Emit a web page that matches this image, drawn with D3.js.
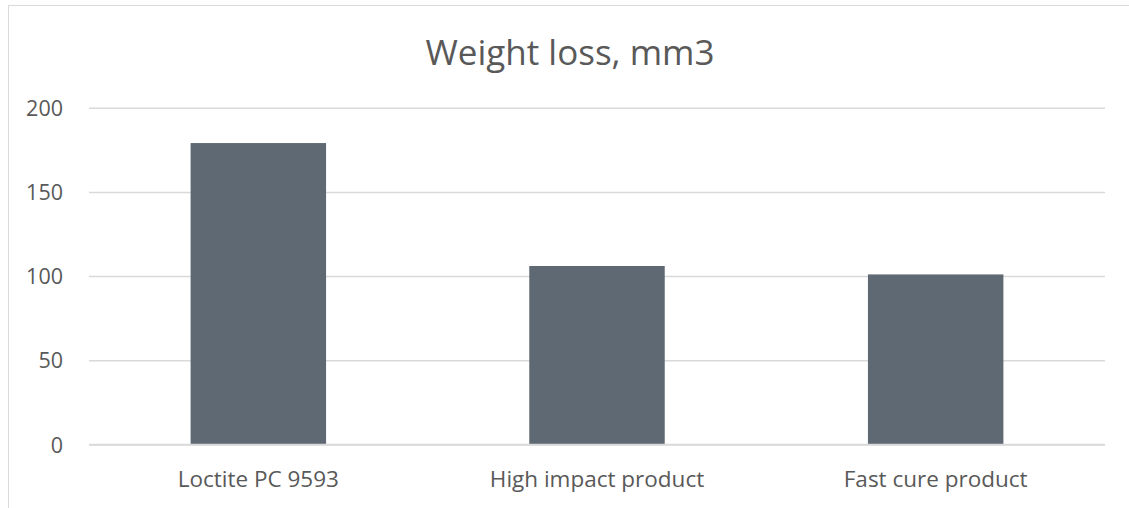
<!DOCTYPE html>
<html>
<head>
<meta charset="utf-8">
<script src="https://cdn.jsdelivr.net/npm/d3@7"></script>
<style>
  html, body { margin: 0; padding: 0; background: #ffffff; }
  svg { display: block; }
  text { font-family: "Open Sans", "Noto Sans", sans-serif; fill: #595959; }
</style>
</head>
<body>
<script>
// Chart data
const categories = ["Loctite PC 9593", "High impact product", "Fast cure product"];
const weightLoss = [179, 106, 101];
const yTicks = [0, 50, 100, 150, 200];
const title = "Weight loss, mm3";

const W = 1129, H = 508;
const plot = { left: 89, right: 1105, top: 107.7, bottom: 444.5 };

const svg = d3.select("body").append("svg")
  .attr("width", W).attr("height", H);

// Chart area frame
svg.append("rect")
  .attr("x", 8.5).attr("y", 5.5)
  .attr("width", W + 20).attr("height", H + 20)
  .attr("fill", "#ffffff")
  .attr("stroke", "#d9d9d9").attr("stroke-width", 1);

const x = d3.scaleBand()
  .domain(categories)
  .range([plot.left, plot.right])
  .paddingInner(0.6)
  .paddingOuter(0.3);

const y = d3.scaleLinear()
  .domain([0, 200])
  .range([plot.bottom, plot.top]);

// Horizontal gridlines and value labels
const yAxis = d3.axisLeft(y)
  .tickValues(yTicks)
  .tickSize(-(plot.right - plot.left))
  .tickPadding(26)
  .tickFormat(d3.format("d"));

const gy = svg.append("g")
  .attr("transform", `translate(${plot.left},0)`)
  .call(yAxis);
gy.select(".domain").remove();
gy.selectAll(".tick line")
  .attr("stroke", "#d9d9d9").attr("stroke-width", 1.5);
gy.selectAll(".tick text")
  .attr("font-size", 21.5)
  .attr("fill", "#595959")
  .attr("dy", "0.35em");

// Bars
svg.append("g").selectAll("rect")
  .data(weightLoss)
  .join("rect")
  .attr("x", (d, i) => x(categories[i]))
  .attr("y", d => y(d))
  .attr("width", x.bandwidth())
  .attr("height", d => y(0) - y(d))
  .attr("fill", "#5f6973");

// Baseline drawn over the bars
svg.append("line")
  .attr("x1", plot.left).attr("x2", plot.right)
  .attr("y1", y(0)).attr("y2", y(0))
  .attr("stroke", "#d9d9d9").attr("stroke-width", 1.5);

// Category labels
const xAxis = d3.axisBottom(x).tickSize(0).tickPadding(27);
const gx = svg.append("g")
  .attr("transform", `translate(0,${plot.bottom})`)
  .call(xAxis);
gx.select(".domain").remove();
gx.selectAll(".tick text")
  .attr("font-size", 22.5)
  .attr("fill", "#595959");

// Title, centred on the chart area
svg.append("text")
  .attr("x", 570)
  .attr("y", 53)
  .attr("dy", "0.35em")
  .attr("text-anchor", "middle")
  .attr("font-size", 35)
  .text(title);
</script>
</body>
</html>
